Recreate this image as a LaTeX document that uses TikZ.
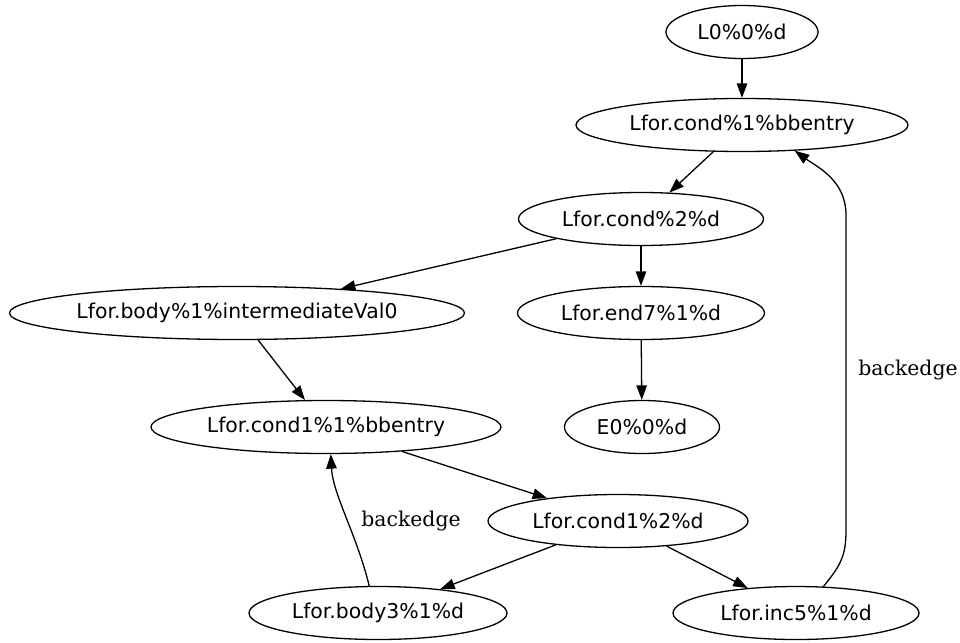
\documentclass[tikz,border=0pt]{standalone}
\usepackage{fontspec}
\setmainfont{DejaVu Sans}
\newfontfamily\labelfont{DejaVu Serif}
\usetikzlibrary{arrows.meta,shapes.geometric}

\tikzset{
  block/.style={draw, ellipse, line width=1.3pt, inner sep=0pt,
    minimum height=53pt, font=\fontsize{20.4}{24}\selectfont},
  flow/.style={draw, line width=1.3pt,
    -{Triangle[length=14.5pt,width=10.5pt]}},
  edgelabel/.style={font=\labelfont\fontsize{20.4}{24}\selectfont}
}

\begin{document}
\begin{tikzpicture}[x=1pt,y=-1pt]
  \useasboundingbox (0,0) rectangle (960,642);

  % basic blocks of the loop nest
  \node[block, minimum width=152pt] (l0)  at (742,32)  {L0\%0\%d};
  \node[block, minimum width=332pt] (c1)  at (742,125) {Lfor.cond\%1\%bbentry};
  \node[block, minimum width=245pt] (c2)  at (641,219) {Lfor.cond\%2\%d};
  \node[block, minimum width=455pt] (b1)  at (237,313) {Lfor.body\%1\%intermediateVal0};
  \node[block, minimum width=247pt] (e7)  at (641,313) {Lfor.end7\%1\%d};
  \node[block, minimum width=350pt] (cc1) at (326,427) {Lfor.cond1\%1\%bbentry};
  \node[block, minimum width=155pt] (e0)  at (642,427) {E0\%0\%d};
  \node[block, minimum width=260pt] (cc2) at (618,521) {Lfor.cond1\%2\%d};
  \node[block, minimum width=258pt] (b3)  at (378,613) {Lfor.body3\%1\%d};
  \node[block, minimum width=246pt] (i5)  at (796,613) {Lfor.inc5\%1\%d};

  % forward edges
  \draw[flow] (l0) -- (c1);
  \draw[flow] (c1) -- (c2);
  \draw[flow] (c2) -- (b1);
  \draw[flow] (c2) -- (e7);
  \draw[flow] (b1) -- (cc1);
  \draw[flow] (e7) -- (e0);
  \draw[flow] (cc1) -- (cc2);
  \draw[flow] (cc2) -- (b3);
  \draw[flow] (cc2) -- (i5);

  % inner loop back edge
  \draw[flow] (b3.108) .. controls +(-12,-50) and +(2,40) .. (cc1.280);
  \node[edgelabel] (lbin) at (411,521) {backedge};

  % outer loop back edge
  \coordinate (bk1) at (846,530);
  \coordinate (bk2) at (846,215);
  \draw[flow] (i5.44) .. controls +(18,-22) and +(0,25) .. (bk1)
    -- (bk2) .. controls +(0,-35) and +(22,16) .. (c1.334);
  \node[edgelabel] (lbout) at (908,370) {backedge};
\end{tikzpicture}
\end{document}
